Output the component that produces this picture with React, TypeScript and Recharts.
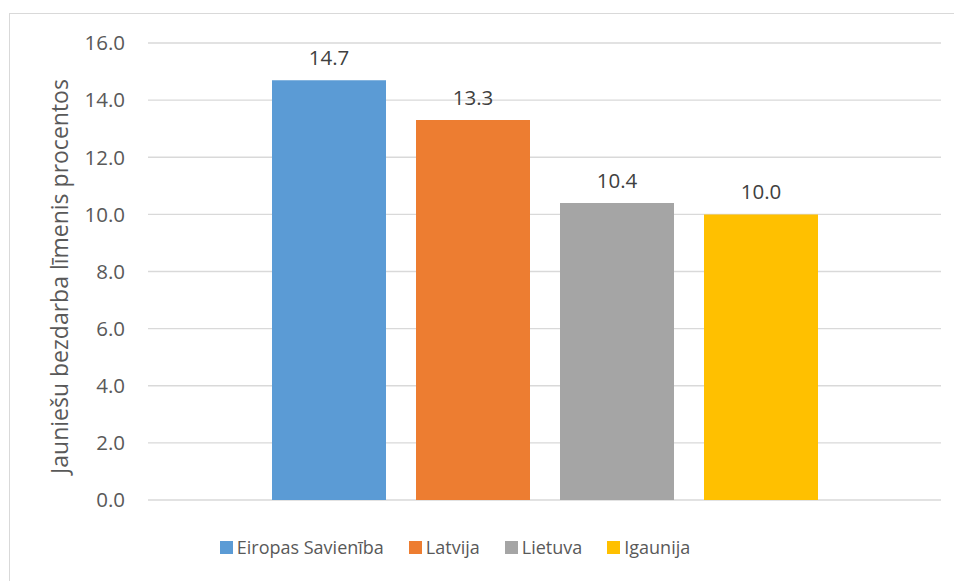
import { BarChart, Bar, XAxis, YAxis, CartesianGrid, LabelList } from "recharts";

const SERIES_KEYS = ["eu", "lv", "lt", "ee"];
const SERIES_NAMES = ["Eiropas Savienība", "Latvija", "Lietuva", "Igaunija"];
const SERIES_COLORS = ["#5b9bd5", "#ed7d31", "#a5a5a5", "#ffc000"];
const SERIES_VALUES = [14.7, 13.3, 10.4, 10.0];
const Y_TICKS = [0, 2, 4, 6, 8, 10, 12, 14, 16];
const Y_LABEL = "Jauniešu bezdarba līmenis procentos";

const FONT = "'Open Sans', sans-serif";
const TEXT = "#595959";

const row: Record<string, number | string> = { name: "" };
SERIES_KEYS.forEach((k, i) => (row[k] = SERIES_VALUES[i]));
const data = [row];

function LegendBox() {
  return (
    <div
      style={{
        position: "absolute",
        left: 0,
        top: 535,
        width: 910,
        display: "flex",
        justifyContent: "center",
        gap: 25,
        fontFamily: FONT,
        fontSize: 18,
        color: TEXT,
      }}
    >
      {SERIES_NAMES.map((n, i) => (
        <span key={n} style={{ display: "flex", alignItems: "center", gap: 4 }}>
          <span style={{ width: 13, height: 13, background: SERIES_COLORS[i], display: "inline-block" }} />
          {n}
        </span>
      ))}
    </div>
  );
}

export default function App() {
  return (
    <div style={{ position: "absolute", left: 0, top: 0, width: 954, height: 581, overflow: "hidden", background: "#fff" }}>
      <div
        style={{
          position: "absolute",
          left: 9,
          top: 13,
          width: 1000,
          height: 700,
          border: "1.5px solid #d9d9d9",
        }}
      />
      <BarChart
        width={954}
        height={581}
        data={data}
        margin={{ top: 43, right: 13, bottom: 81, left: 48 }}
        barCategoryGap={124}
        barGap={30}
        style={{ position: "absolute", left: 0, top: 0 }}
      >
        <CartesianGrid vertical={false} stroke="#d9d9d9" strokeWidth={1.3} />
        <XAxis dataKey="name" tick={false} tickLine={false} axisLine={{ stroke: "#d9d9d9", strokeWidth: 1.3 }} height={0} />
        <YAxis
          width={100}
          domain={[0, 16]}
          ticks={Y_TICKS}
          interval={0}
          tickFormatter={(v) => Number(v).toFixed(1)}
          tick={{ fill: TEXT, fontSize: 20.5, fontFamily: FONT }}
          tickLine={false}
          axisLine={false}
          tickMargin={17}
          label={{
            content: (props: any) => {
              const vb = props.viewBox || {};
              const cx = vb.x + 11;
              const cy = vb.y + vb.height / 2 + 5;
              return (
                <text
                  x={cx}
                  y={cy}
                  transform={`rotate(-90, ${cx}, ${cy})`}
                  textAnchor="middle"
                  dominantBaseline="central"
                  fill={TEXT}
                  fontSize={23}
                  fontFamily={FONT}
                >
                  {Y_LABEL}
                </text>
              );
            },
          }}
        />
        {SERIES_KEYS.map((k, i) => (
          <Bar key={k} dataKey={k} name={SERIES_NAMES[i]} fill={SERIES_COLORS[i]} isAnimationActive={false}>
            <LabelList
              dataKey={k}
              position="top"
              offset={15}
              formatter={(v: any) => Number(v).toFixed(1)}
              fill="#404040"
              fontSize={20.5}
              fontFamily={FONT}
            />
          </Bar>
        ))}
      </BarChart>
      <LegendBox />
    </div>
  );
}
